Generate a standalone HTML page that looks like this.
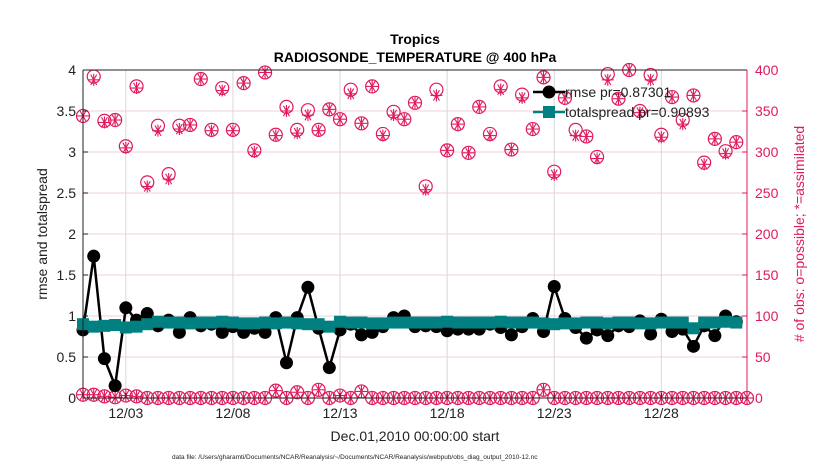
<!DOCTYPE html>
<html><head><meta charset="utf-8"><style>
html,body{margin:0;padding:0;background:#fff}
svg{display:block;font-family:"Liberation Sans",sans-serif}
</style></head><body>
<svg id="chart" width="830" height="470" viewBox="0 0 830 470">
<g id="grid"></g><g id="marks"></g><g id="axes"></g>
<text x="415" y="44" text-anchor="middle" font-size="14" font-weight="bold">Tropics</text>
<text x="415" y="62" text-anchor="middle" font-size="14" font-weight="bold">RADIOSONDE_TEMPERATURE @ 400 hPa</text>
<text transform="translate(47,234) rotate(-90)" text-anchor="middle" font-size="14" fill="#222">rmse and totalspread</text>
<text transform="translate(804,234) rotate(-90)" text-anchor="middle" font-size="14" fill="#e0195f"># of obs: o=possible; *=assimilated</text>
<text x="415" y="441" text-anchor="middle" font-size="14" fill="#222">Dec.01,2010 00:00:00 start</text>
<text x="172" y="459" font-size="6.5" fill="#222">data file: /Users/gharamti/Documents/NCAR/Reanalysis/~/Documents/NCAR/Reanalysis/webpub/obs_diag_output_2010-12.nc</text>
<g id="legend"></g>
</svg>
<script>
const xTickDays=[2,7,12,17,22,27];
const xTickLabels=["12/03","12/08","12/13","12/18","12/23","12/28"];
const yTicks=[0,0.5,1,1.5,2,2.5,3,3.5,4];
const y2Ticks=[0,50,100,150,200,250,300,350,400];
const rmse=[0.83,1.73,0.48,0.15,1.10,0.95,1.03,0.88,0.95,0.80,0.98,0.88,0.90,0.80,0.87,0.80,0.85,0.80,0.98,0.43,0.98,1.35,0.85,0.37,0.83,0.90,0.77,0.80,0.87,0.98,1.00,0.87,0.88,0.87,0.82,0.84,0.84,0.84,0.90,0.86,0.77,0.87,0.97,0.81,1.36,0.97,0.86,0.73,0.83,0.76,0.88,0.87,0.94,0.78,0.96,0.81,0.84,0.63,0.88,0.76,1.00,0.93];
const spread=[0.90,0.87,0.88,0.89,0.86,0.87,0.90,0.93,0.92,0.92,0.91,0.92,0.92,0.93,0.92,0.91,0.91,0.92,0.91,0.92,0.91,0.90,0.90,0.87,0.93,0.92,0.92,0.91,0.91,0.92,0.92,0.92,0.92,0.92,0.93,0.92,0.92,0.92,0.92,0.93,0.92,0.92,0.92,0.91,0.90,0.91,0.91,0.92,0.92,0.91,0.92,0.92,0.91,0.91,0.92,0.92,0.92,0.85,0.92,0.92,0.93,0.92];
const possibleTop=[344,392,338,339,307,380,263,332,273,332,333,389,327,378,327,384,302,397,321,355,327,351,327,352,340,376,335,380,322,349,340,360,258,376,302,334,299,355,322,380,303,370,328,391,276,366,327,319,294,395,365,400,350,394,321,367,339,369,287,316,301,312,null];
const assimTop=[344,388,336,339,305,378,258,326,267,328,333,389,326,375,326,384,300,397,320,350,323,345,326,352,340,371,335,380,320,345,340,360,254,369,302,334,299,355,320,376,303,366,328,391,272,366,320,319,292,388,365,400,348,388,318,367,334,369,285,316,298,312,null];
const possibleLow=[4,4,2,1,3,2,0,0,0,0,0,0,0,0,0,0,0,0,9,0,7,0,10,0,3,0,8,0,0,0,0,0,0,0,0,0,0,0,0,0,0,0,0,10,0,0,0,0,0,0,0,0,0,0,0,0,0,0,0,0,0,0,0];
const assimLow=[4,4,2,1,3,2,0,0,0,0,0,0,0,0,0,0,0,0,9,0,7,0,10,0,3,0,8,0,0,0,0,0,0,0,0,0,0,0,0,0,0,0,0,10,0,0,0,0,0,0,0,0,0,0,0,0,0,0,0,0,0,0,0];

const L=83,R=747,T=70,B=398,PINK="#e0195f",TEAL="#008080",NS="http://www.w3.org/2000/svg";
const xDay=d=>L+(R-L)*d/31;
const xIdx=i=>xDay(i*0.5);
const yL=v=>B-(B-T)*v/4;
const yR=v=>B-(B-T)*v/400;
function mk(tag,attrs,parent){const e=document.createElementNS(NS,tag);for(const k in attrs)e.setAttribute(k,attrs[k]);parent.appendChild(e);return e;}
const grid=document.getElementById('grid'),marks=document.getElementById('marks'),axes=document.getElementById('axes'),legend=document.getElementById('legend');
yTicks.forEach(v=>{if(v===0||v===4)return;const l=mk('line',{x1:L,x2:R,y1:yL(v),y2:yL(v),stroke:"#f3cfdc","stroke-width":1},grid);

});
xTickDays.forEach((d,i)=>{const l=mk('line',{x1:xDay(d),x2:xDay(d),y1:T,y2:B,stroke:"#d8d8d8","stroke-width":1},grid);


const t=mk('text',{x:xDay(d),y:B+20,"text-anchor":"middle","font-size":14,fill:"#222"},axes);t.textContent=xTickLabels[i];


mk('line',{x1:xDay(d),x2:xDay(d),y1:B,y2:B-5,stroke:"#222"},axes);});
yTicks.forEach(v=>{const t=mk('text',{x:L-7,y:yL(v)+5,"text-anchor":"end","font-size":14,fill:"#222"},axes);t.textContent=String(v);


mk('line',{x1:L,x2:L+5,y1:yL(v),y2:yL(v),stroke:"#222"},axes);});
y2Ticks.forEach(v=>{const t=mk('text',{x:R+8,y:yR(v)+5,"font-size":14,fill:PINK},axes);t.textContent=String(v);


mk('line',{x1:R-5,x2:R,y1:yR(v),y2:yR(v),stroke:PINK},axes);});
mk('line',{x1:L,x2:L,y1:T,y2:B,stroke:"#222"},axes);
mk('line',{x1:L,x2:R,y1:T,y2:T,stroke:"#222"},axes);
mk('line',{x1:L,x2:R,y1:B,y2:B,stroke:"#222"},axes);
mk('line',{x1:R,x2:R,y1:T,y2:B,stroke:PINK},axes);
function star(x,y,p){const g=mk('g',{stroke:PINK,"stroke-width":1.1},p);const r=6;
[0,60,120].forEach(a=>{const c=Math.cos(a*Math.PI/180)*r,s=Math.sin(a*Math.PI/180)*r;mk('line',{x1:x-c,y1:y-s,x2:x+c,y2:y+s},g);});
mk('line',{x1:x,y1:y-r,x2:x,y2:y+r},g);
return g;}
function drawObs(pos,ass,name){pos.forEach((v,i)=>{if(v==null)return;const c=mk('circle',{cx:xIdx(i),cy:yR(v),r:6.5,fill:"none",stroke:PINK,"stroke-width":1.2},marks);

});
ass.forEach((v,i)=>{if(v==null)return;const g=star(xIdx(i),yR(v),marks);

});}
drawObs(possibleTop,assimTop,'obs-count-a');
drawObs(possibleLow,assimLow,'obs-count-b');
function line(vals,color,w){return vals.map((v,i)=>v==null?null:[xIdx(i),yL(v)]).filter(p=>p).map((p,j)=>(j?'L':'M')+p[0]+' '+p[1]).join(' ');}
const rl=mk('path',{d:line(rmse),fill:"none",stroke:"#000","stroke-width":2.5},marks);


rmse.forEach((v,i)=>{const c=mk('circle',{cx:xIdx(i),cy:yL(v),r:6.5,fill:"#000"},marks);

});
const sl=mk('path',{d:line(spread),fill:"none",stroke:TEAL,"stroke-width":2.5},marks);


spread.forEach((v,i)=>{const r=mk('rect',{x:xIdx(i)-6,y:yL(v)-6,width:12,height:12,fill:TEAL},marks);

});
// legend
mk('line',{x1:533,x2:565,y1:92,y2:92,stroke:"#000","stroke-width":2.5},legend);
mk('circle',{cx:549,cy:92,r:6.5,fill:"#000"},legend);
const t1=mk('text',{x:565,y:97,"font-size":14,fill:"#222"},legend);t1.textContent="rmse pr=0.87301";


mk('line',{x1:533,x2:565,y1:112,y2:112,stroke:TEAL,"stroke-width":2.5},legend);
mk('rect',{x:543,y:106,width:12,height:12,fill:TEAL},legend);
const t2=mk('text',{x:565,y:117,"font-size":14,fill:"#222"},legend);t2.textContent="totalspread pr=0.90893";


</script>
</body></html>
